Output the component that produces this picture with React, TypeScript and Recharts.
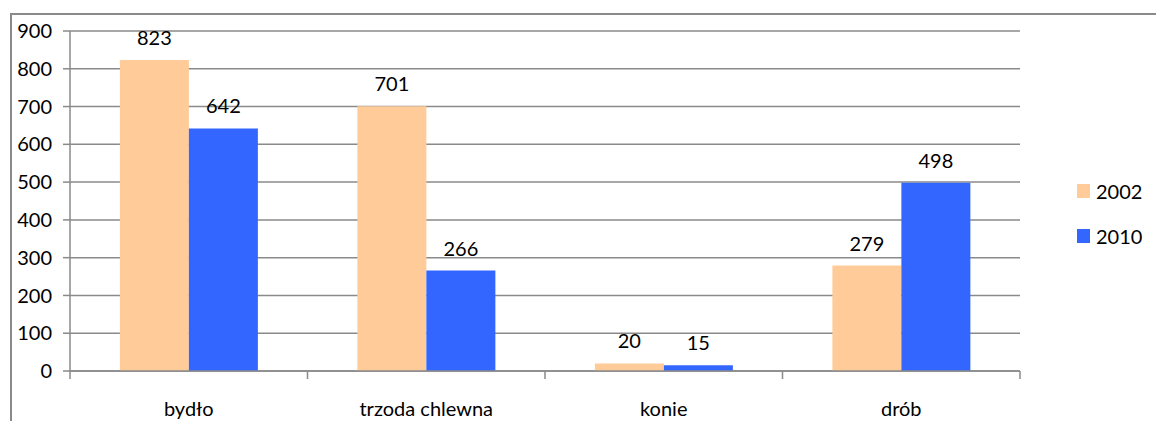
import React from "react";
import {
  BarChart,
  Bar,
  XAxis,
  YAxis,
  CartesianGrid,
  LabelList,
} from "recharts";

// Values
const categories = ["bydło", "trzoda chlewna", "konie", "drób"];
const values2002 = [823, 701, 20, 279];
const values2010 = [642, 266, 15, 498];
const yTicks = [0, 100, 200, 300, 400, 500, 600, 700, 800, 900];
const seriesNames = ["2002", "2010"];

const COLOR_2002 = "#ffcc99";
const COLOR_2010 = "#3366ff";
const GRID = "#8a8a8a";
const FONT = "Lato, 'Open Sans', sans-serif";

const chartData = categories.map((name, i) => ({
  name,
  y2002: values2002[i],
  y2010: values2010[i],
}));

function CategoryTick(props: any) {
  const { x, y, payload, index, visibleTicksCount, width } = props;
  const band = width && visibleTicksCount ? width / visibleTicksCount : 237.5;
  const left = x - band / 2;
  const isLast = index === visibleTicksCount - 1;
  return (
    <g>
      <line x1={left} y1={y} x2={left} y2={y + 8} stroke={GRID} strokeWidth={1.5} />
      {isLast && (
        <line x1={left + band} y1={y} x2={left + band} y2={y + 8} stroke={GRID} strokeWidth={1.5} />
      )}
      <text
        x={x}
        y={y + 37}
        textAnchor="middle"
        dominantBaseline="central"
        fontSize={20}
        fontFamily={FONT}
        fill="#000"
      >
        {payload.value}
      </text>
    </g>
  );
}

function ChartLegend() {
  const colors = [COLOR_2002, COLOR_2010];
  return (
    <div style={{ position: "absolute", left: 1077, top: 178, fontFamily: FONT, fontSize: 20 }}>
      {seriesNames.map((s, i) => (
        <div key={s} style={{ display: "flex", alignItems: "center", height: 26, marginBottom: 19 }}>
          <span style={{ width: 13, height: 14, background: colors[i], display: "inline-block", marginRight: 6 }} />
          <span>{s}</span>
        </div>
      ))}
    </div>
  );
}

export default function App() {
  return (
    <div style={{ position: "absolute", left: 0, top: 0, width: 1156, height: 421, background: "#fff", overflow: "hidden" }}>
      <div
        style={{
          position: "absolute",
          left: 10,
          top: 13,
          width: 1160,
          height: 420,
          borderLeft: `2px solid ${GRID}`,
          borderTop: `2px solid ${GRID}`,
        }}
      />
      <div style={{ position: "absolute", left: 0, top: 0 }}>
        <BarChart
          width={1156}
          height={421}
          data={chartData}
          margin={{ top: 31, right: 136, bottom: 0, left: 0 }}
          barCategoryGap="21%"
          barGap={0}
        >
          <CartesianGrid vertical={false} stroke={GRID} strokeWidth={1.5} />
          <XAxis
            dataKey="name"
            height={50}
            axisLine={{ stroke: GRID, strokeWidth: 1.5 }}
            tickLine={false}
            tickSize={0}
            tickMargin={0}
            interval={0}
            tick={<CategoryTick />}
          />
          <YAxis
            width={70}
            domain={[0, 900]}
            ticks={yTicks}
            interval={0}
            axisLine={{ stroke: GRID, strokeWidth: 1.5 }}
            tickLine={{ stroke: GRID, strokeWidth: 1.5 }}
            tickSize={7}
            tickMargin={11}
            tick={{ fontSize: 20, fontFamily: FONT, fill: "#000" }}
          />
          <Bar dataKey="y2002" fill={COLOR_2002} isAnimationActive={false}>
            <LabelList dataKey="y2002" position="top" offset={15} fill="#000" fontSize={20} fontFamily={FONT} />
          </Bar>
          <Bar dataKey="y2010" fill={COLOR_2010} isAnimationActive={false}>
            <LabelList dataKey="y2010" position="top" offset={15} fill="#000" fontSize={20} fontFamily={FONT} />
          </Bar>
        </BarChart>
      </div>
      <ChartLegend />
    </div>
  );
}
